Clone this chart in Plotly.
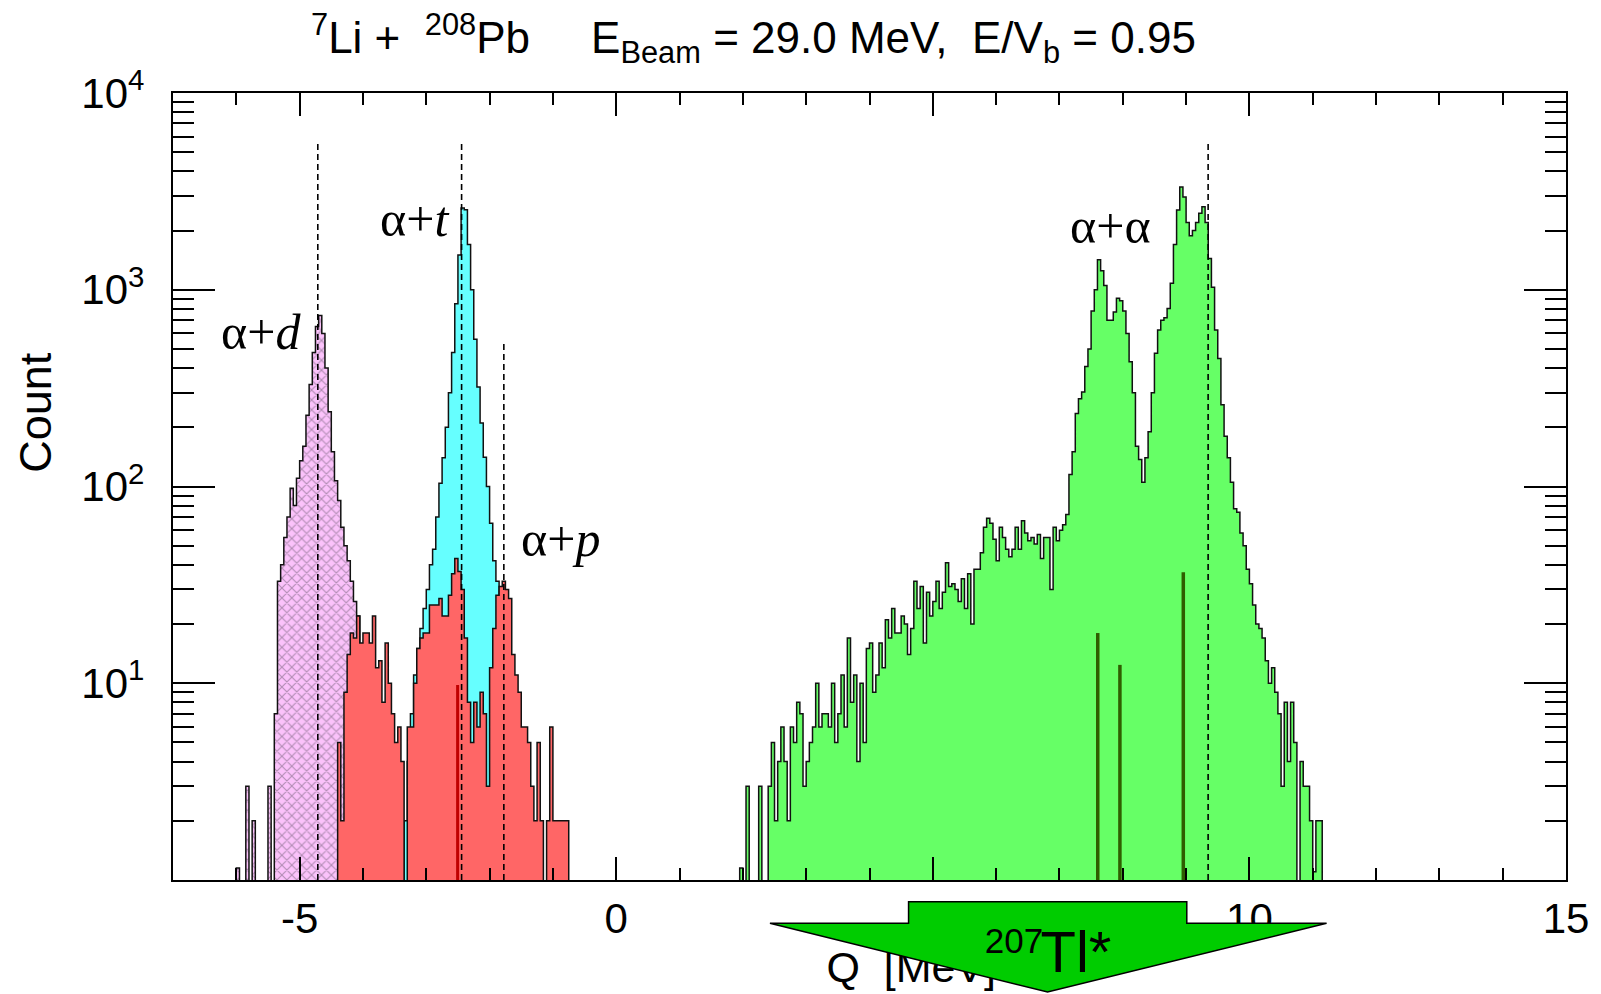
import numpy as np
import plotly.graph_objects as go

# ---------------------------------------------------------------- data
BIN_WIDTH = 0.05          # MeV
Q_RANGE = [-7.0, 15.0]    # MeV
COUNT_RANGE_LOG = [0, 4]  # 1 .. 10^4

# alpha + d coincidences (lower edge of first bin, counts per bin)
q0_alpha_d = -6.00
counts_alpha_d = [1.15, 0, 0, 3, 0, 2, 0, 0, 0, 0, 3, 0, 7, 33, 40, 55, 70, 98, 80, 110,
                  135, 160, 230, 330, 480, 650, 740, 600, 400, 240, 150, 107, 85, 62, 50, 42,
                  33, 26, 22, 12, 8, 5, 3, 2]

# alpha + t coincidences
q0_alpha_t = -3.35
counts_alpha_t = [2, 4, 7, 11, 15, 19, 24, 30, 40, 48, 70, 104, 140, 200, 300, 480, 850,
                  1500, 2600, 2550, 1700, 1000, 560, 320, 210, 141, 100, 65, 42, 33, 24, 17,
                  10, 6, 3]

# alpha + p coincidences
q0_alpha_p = -4.40
counts_alpha_p = [5, 2, 9, 14, 18, 17, 22, 16, 18, 18,
                  16, 22, 12, 13, 8, 16, 10, 7, 5, 6,
                  4, 0, 6, 6, 10, 15, 17, 18, 18, 25,
                  25, 25, 27, 22, 22, 28, 36, 43, 37, 30,
                  17, 8, 5, 8, 6, 9, 7, 3, 12, 19,
                  28, 31, 33, 30, 27, 14, 11, 9, 6, 6,
                  5, 3, 2, 5, 2, 0, 2, 6, 2, 2,
                  2, 2, 2]

# alpha + alpha coincidences
q0_alpha_alpha = 1.95
counts_alpha_alpha = [1.15, 0, 3, 0, 0, 0, 3, 0, 0, 3,
                      5, 2, 4, 6, 4, 2, 6, 5, 8, 7,
                      3, 4, 5, 6, 10, 6, 7, 7, 6, 10,
                      5, 7, 11, 6, 17, 8, 11, 4, 10, 5,
                      15, 16, 9, 11, 16, 12, 21, 17, 24, 18,
                      18, 22, 20, 14, 19, 33, 24, 31, 16, 29,
                      22, 26, 33, 24, 29, 41, 31, 32, 30, 26,
                      34, 24, 36, 20, 38, 38, 46, 62, 69, 65,
                      54, 42, 62, 55, 48, 44, 48, 62, 48, 67,
                      58, 53, 55, 51, 57, 43, 55, 55, 30, 62,
                      53, 60, 64, 72, 115, 150, 235, 279, 302, 407,
                      500, 780, 1000, 1420, 1250, 1050, 700, 700, 770, 905,
                      880, 780, 600, 430, 300, 160, 137, 105, 140, 190,
                      300, 475, 625, 700, 720, 804, 1080, 1700, 2540, 3330,
                      2960, 2200, 1880, 2000, 2200, 2450, 2640, 2200, 1440, 1030,
                      625, 447, 260, 180, 140, 105, 77, 74, 58, 50,
                      38, 32, 25, 20, 19, 17, 13, 10, 12, 9,
                      7, 3, 8, 4, 8, 5, 0, 4, 3, 3,
                      2, 1.1, 2, 2]

# breakup thresholds (dashed) and their drawn heights
q_breakup = [-4.713, -2.442, -1.775, 9.348]
q_breakup_top = [5600, 5600, 540, 5600]

# 207Tl states (dark green) and alpha+p marker (dark red)
q_tl_states = [7.605, 7.955, 8.956]
tl_state_heights = [18, 12.4, 36.7]
q_ap_marker = [-2.505]
ap_marker_heights = [9.8]

# reaction channel labels: (text, Q, log10 count)
channel_labels = [
    ("α+<i>d</i>", -5.615, 2.785),
    ("α+<i>t</i>", -3.184, 3.359),
    ("α+<i>p</i>", -0.884, 1.733),
    ("α+α", 7.808, 3.325),
]

x_tickvals = [-5, 0, 5, 10, 15]
x_ticktext = ["-5", "0", "5", "10", "15"]
y_tickvals = [10, 100, 1000, 10000]
y_ticktext = ["10<sup>1</sup>", "10<sup>2</sup>", "10<sup>3</sup>", "10<sup>4</sup>"]
y_minor = [m * 10 ** d for d in range(4) for m in range(2, 10)]

# ---------------------------------------------------------------- style
SANS = "Liberation Sans, Arial, Helvetica, sans-serif"
SERIF = "Liberation Serif, Times New Roman, serif"
FLOOR = 0.05   # below the visible range: empty bins drop to the frame
NB = "\u00a0"

C_ALPHA_D = "#fbc2fb"
C_ALPHA_T = "#66ffff"
C_ALPHA_P = "#ff6666"
C_ALPHA_A = "#66ff66"
C_ARROW = "#00cc00"


def step_path(q0, counts):
    """Closed step outline of a histogram, in data coordinates."""
    n = len(counts)
    edges = q0 + BIN_WIDTH * np.arange(n + 1)
    xs, ys = [edges[0]], [FLOOR]
    for i, c in enumerate(counts):
        v = c if c > 0 else FLOOR
        xs += [edges[i], edges[i + 1]]
        ys += [v, v]
    xs.append(edges[-1])
    ys.append(FLOOR)
    return xs, ys


fig = go.Figure()

hists = [
    (q0_alpha_d, counts_alpha_d, C_ALPHA_D, True),
    (q0_alpha_t, counts_alpha_t, C_ALPHA_T, False),
    (q0_alpha_p, counts_alpha_p, C_ALPHA_P, False),
    (q0_alpha_alpha, counts_alpha_alpha, C_ALPHA_A, False),
]
for q0, counts, color, hatched in hists:
    xs, ys = step_path(q0, counts)
    kw = dict(fillcolor=color)
    if hatched:
        kw["fillpattern"] = dict(shape="x", bgcolor=color, fgcolor="#65566a",
                                 size=7, solidity=0.3)
    fig.add_trace(go.Scatter(
        x=xs, y=ys, mode="lines", fill="toself",
        line=dict(color="#111111", width=1.5),
        hoverinfo="skip", showlegend=False, **kw))


def vlines(qs, tops, color, width, dash=None):
    xs, ys = [], []
    for q, t in zip(qs, tops):
        xs += [q, q, None]
        ys += [1, t, None]
    fig.add_trace(go.Scatter(
        x=xs, y=ys, mode="lines",
        line=dict(color=color, width=width, dash=dash),
        hoverinfo="skip", showlegend=False))


vlines(q_ap_marker, ap_marker_heights, "#c00000", 3)
vlines(q_tl_states, tl_state_heights, "#2f5e00", 3.5)
vlines(q_breakup, q_breakup_top, "black", 1.6, dash="6px,4px")

# ---------------------------------------------------------------- layout
axis_common = dict(showgrid=False, zeroline=False, showline=True, linecolor="black",
                   linewidth=2.4, mirror="ticks", ticks="inside", tickcolor="black",
                   tickwidth=2, tickfont=dict(family=SANS, size=42, color="black"))

fig.update_layout(
    width=1601, height=994,
    margin=dict(l=173, r=33, t=93, b=114),
    paper_bgcolor="white", plot_bgcolor="white",
    showlegend=False,
    font=dict(family=SANS, color="black"),
    xaxis=dict(range=Q_RANGE, tickvals=x_tickvals, ticktext=x_ticktext, ticklen=23,
               ticklabelstandoff=0,
               minor=dict(ticks="inside", dtick=1, ticklen=12, tickwidth=2,
                          tickcolor="black", showgrid=False),
               **axis_common),
    yaxis=dict(type="log", range=COUNT_RANGE_LOG, tickvals=y_tickvals,
               ticktext=y_ticktext, ticklen=42, ticklabelstandoff=18,
               minor=dict(ticks="inside", tickvals=y_minor, ticklen=21, tickwidth=2,
                          tickcolor="black", showgrid=False),
               **axis_common),
)


def text_box(text, q_lo, q_hi, y_mid, size, half_h=0.01):
    """Invisible rectangle carrying a centred text label (drawn in shape order)."""
    fig.add_shape(type="rect", xref="x", yref="paper", layer="above",
                  x0=q_lo, x1=q_hi, y0=y_mid - half_h, y1=y_mid + half_h,
                  line=dict(width=0), fillcolor="rgba(0,0,0,0)",
                  label=dict(text=text, textposition="middle center",
                             font=dict(family=SANS, size=size, color="black")))


# x-axis title first, so that the 207Tl arrow drawn next covers part of it
text_box(f"Q{NB}{NB}[MeV]", 4.2, 5.118, -0.1053, 43)

# 207Tl* arrow below the frame (x in MeV, y in plot-height fractions)
a_l, a_r, b_l, b_r, tip = 2.428, 11.219, 4.617, 9.011, 6.812
y_top, y_base, y_tip = -0.0276, -0.0550, -0.1423
arrow = (f"M {b_l},{y_top} L {b_r},{y_top} L {b_r},{y_base} L {a_r},{y_base} "
         f"L {tip},{y_tip} L {a_l},{y_base} L {b_l},{y_base} Z")
fig.add_shape(type="path", path=arrow, xref="x", yref="paper", layer="above",
              fillcolor=C_ARROW, line=dict(color="black", width=1.5))

# arrow caption: mass number top-aligned with the element symbol
text_box("207", 5.983, 6.583, -0.0735, 35)
text_box("Tl*", 6.911, 7.611, -0.0846, 58)

annotations = [
    dict(text=f"<sup>7</sup>Li +{NB}{NB}<sup>208</sup>Pb{NB * 5}"
              f"E<sub>Beam</sub> = 29.0 MeV,{NB}{NB}E/V<sub>b</sub> = 0.95",
         x=0.417, y=1.069, xref="paper", yref="paper",
         font=dict(family=SANS, size=44, color="black")),
    dict(text="Count", x=-0.0987, y=0.5944, xref="paper", yref="paper", textangle=-90,
         font=dict(family=SANS, size=45, color="black")),
]
for txt, q, ly in channel_labels:
    annotations.append(dict(text=txt, x=q, y=ly, xref="x", yref="y",
                            font=dict(family=SERIF, size=50, color="black")))
for a in annotations:
    a.update(showarrow=False, xanchor="center", yanchor="middle")
fig.update_layout(annotations=annotations)

fig.write_html("out.html")
